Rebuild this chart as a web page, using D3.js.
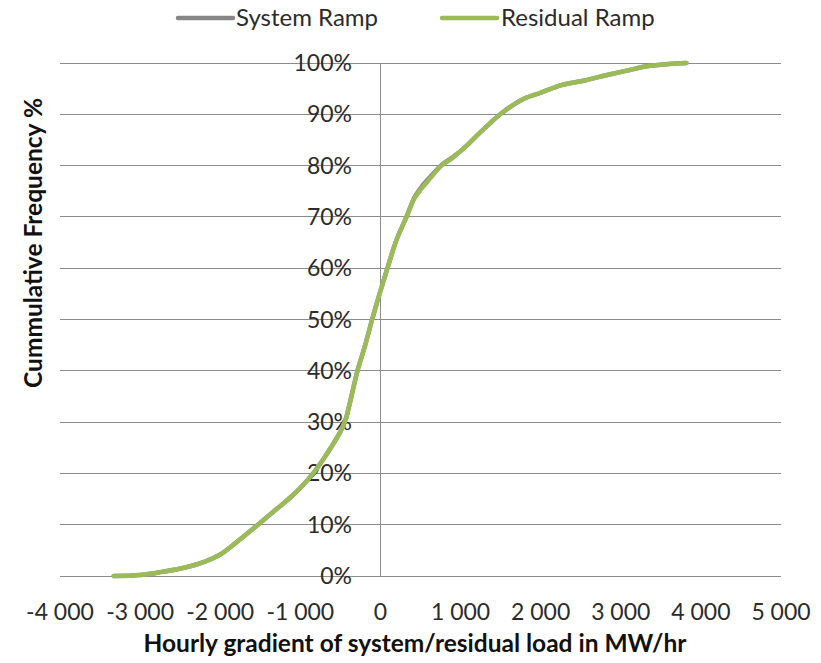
<!DOCTYPE html>
<html><head><meta charset="utf-8">
<script src="https://cdn.jsdelivr.net/npm/d3@7/dist/d3.min.js"></script>
<style>body{margin:0;background:#fff}svg{display:block}</style>
</head><body>
<svg id="c" width="821" height="663"></svg>
<script>
const seriesNames = ["System Ramp", "Residual Ramp"];
const seriesColors = ["#868686", "#9BBB59"];
const xTicks = [-4000, -3000, -2000, -1000, 0, 1000, 2000, 3000, 4000, 5000];
const yTicks = [0, 10, 20, 30, 40, 50, 60, 70, 80, 90, 100];
const systemX = [-3330,-3000,-2730,-2450,-2190,-2000,-1820,-1530,-1300,-1111,-986,-840,-720,-612,-505,-435,-385,-287,-196,-104,-9,87,200,325,425,520,645,770,900,1050,1200,1350,1511,1760,2000,2260,2550,2843,3100,3342,3600,3820];
const systemY = [0,0.2,0.8,1.6,2.8,4.2,6.3,10,13,15.5,17.4,20,22.6,25.2,28,30.5,33.5,40,44.7,50,55.1,60,65.5,70,73.8,76,78.2,80.2,81.6,83.5,85.8,88,90.2,92.8,94.2,95.7,96.6,97.7,98.6,99.4,99.8,100];
const residualX = [-3330,-3000,-2730,-2450,-2190,-2000,-1820,-1530,-1300,-1111,-986,-840,-720,-612,-505,-435,-385,-287,-196,-104,-9,87,200,325,420,512,637,760,900,1050,1200,1350,1511,1760,2000,2260,2550,2843,3100,3342,3600,3820];
const residualY = [0,0.2,0.8,1.6,2.8,4.2,6.3,10,13,15.5,17.4,20,22.6,25.2,28,30.5,33.5,40,44.7,50,55.1,60,65.5,70,73.5,75.5,77.8,80,81.5,83.5,85.8,88,90.2,92.8,94.2,95.7,96.6,97.7,98.6,99.4,99.8,100];

const svg = d3.select("#c");
const L = 60, R = 781, T = 63, B = 576;
const x = d3.scaleLinear().domain([-4000, 5000]).range([L, R]);
const y = d3.scaleLinear().domain([0, 100]).range([B, T]);
const font = "Lato, 'Open Sans', sans-serif";

// gridlines
svg.append("g").selectAll("line").data(yTicks).join("line")
  .attr("x1", L).attr("x2", R).attr("y1", d => y(d)).attr("y2", d => y(d))
  .attr("stroke", "#8c8c8c").attr("stroke-width", 1).attr("shape-rendering", "crispEdges");
// vertical axis at 0
svg.append("line").attr("x1", x(0)).attr("x2", x(0)).attr("y1", T).attr("y2", B)
  .attr("stroke", "#8c8c8c").attr("stroke-width", 1).attr("shape-rendering", "crispEdges");

// y tick labels
svg.append("g").selectAll("text").data(yTicks).join("text")
  .attr("x", 352).attr("y", d => y(d)).attr("dy", "0.35em")
  .attr("text-anchor", "end").attr("font-family", font).attr("font-size", 23).attr("fill", "#2b2b2b")
  .text(d => d + "%");

// x tick labels
svg.append("g").selectAll("text").data(xTicks).join("text")
  .attr("x", d => x(d)).attr("y", 620)
  .attr("text-anchor", "middle").attr("font-family", font).attr("font-size", 23).attr("fill", "#2b2b2b")
  .text(d => d === 0 ? "0" : (d < 0 ? "-" : "") + Math.abs(d / 1000) + " 000");

// axis titles
svg.append("text").attr("x", 415).attr("y", 652).attr("text-anchor", "middle")
  .attr("font-family", font).attr("font-weight", "bold").attr("font-size", 24.5).attr("fill", "#111")
  .text("Hourly gradient of system/residual load in MW/hr");
svg.append("text").attr("transform", "translate(42,243) rotate(-90)").attr("text-anchor", "middle")
  .attr("font-family", font).attr("font-weight", "bold").attr("font-size", 24.5).attr("fill", "#111")
  .text("Cummulative Frequency %");

// lines
const line = d3.line().x(d => x(d[0])).y(d => y(d[1])).curve(d3.curveCatmullRom.alpha(0.5));
const sys = systemX.map((v, i) => [v, systemY[i]]);
const res = residualX.map((v, i) => [v, residualY[i]]);
[sys, res].forEach((data, i) => {
  svg.append("path").datum(data).attr("d", line).attr("fill", "none")
    .attr("stroke", seriesColors[i]).attr("stroke-width", 4.5)
    .attr("stroke-linejoin", "round").attr("stroke-linecap", "round");
});

// legend
const lg = [{x1: 178, x2: 233, tx: 236}, {x1: 442, x2: 497, tx: 501}];
lg.forEach((p, i) => {
  svg.append("line").attr("x1", p.x1).attr("x2", p.x2).attr("y1", 18).attr("y2", 18)
    .attr("stroke", seriesColors[i]).attr("stroke-width", 4.5).attr("stroke-linecap", "round");
  svg.append("text").attr("x", p.tx).attr("y", 18).attr("dy", "0.35em")
    .attr("font-family", font).attr("font-size", 24).attr("fill", "#2b2b2b").text(seriesNames[i]);
});
</script>
</body></html>
